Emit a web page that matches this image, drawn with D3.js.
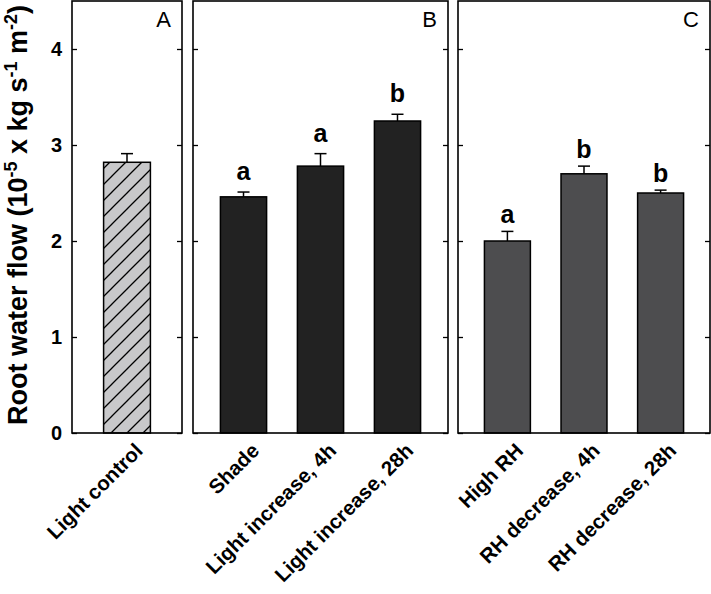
<!DOCTYPE html>
<html><head><meta charset="utf-8">
<script src="https://cdn.jsdelivr.net/npm/d3@7"></script>
<style>body{margin:0;background:#fff}svg{display:block}</style>
</head><body>
<svg id="chart" width="711" height="594"></svg>
<script>
// ---- data ----
const panelA_categories = ["Light control"];
const panelA_values = [2.82];
const panelA_errors = [0.09];
const panelA_letters = [""];

const panelB_categories = ["Shade", "Light increase, 4h", "Light increase, 28h"];
const panelB_values = [2.46, 2.78, 3.25];
const panelB_errors = [0.05, 0.13, 0.07];
const panelB_letters = ["a", "a", "b"];

const panelC_categories = ["High RH", "RH decrease, 4h", "RH decrease, 28h"];
const panelC_values = [2.00, 2.70, 2.50];
const panelC_errors = [0.10, 0.08, 0.03];
const panelC_letters = ["a", "b", "b"];

const panelLabels = ["A", "B", "C"];
const yTicks = [0, 1, 2, 3, 4];
const yDomain = [0, 4.5];

// ---- layout ----
const FONT = "'Liberation Sans', Arial, Helvetica, sans-serif";
const svg = d3.select("#chart");
const y = d3.scaleLinear().domain(yDomain).range([433, 1]);

const panels = [
  {label: panelLabels[0], cats: panelA_categories, vals: panelA_values, errs: panelA_errors, letters: panelA_letters,
   x0: 72, x1: 182, pi: 0.4, po: 0.405, fill: "url(#hatch)", letterGap: 10},
  {label: panelLabels[1], cats: panelB_categories, vals: panelB_values, errs: panelB_errors, letters: panelB_letters,
   x0: 193, x1: 448, pi: 0.4, po: 0.356, fill: "#222222", letterGap: 12},
  {label: panelLabels[2], cats: panelC_categories, vals: panelC_values, errs: panelC_errors, letters: panelC_letters,
   x0: 458, x1: 710, pi: 0.4, po: 0.345, fill: "#4d4d4f", letterGap: 8}
];

// hatch pattern
const defs = svg.append("defs");
const pat = defs.append("pattern").attr("id", "hatch").attr("patternUnits", "userSpaceOnUse")
  .attr("width", 16).attr("height", 16);
pat.append("rect").attr("width", 16).attr("height", 16).attr("fill", "#c8c8ca");
pat.append("path").attr("d", "M-4,4 L4,-4 M0,16 L16,0 M12,20 L20,12")
  .attr("stroke", "#000").attr("stroke-width", 1.3);

panels.forEach((p, pi) => {
  const g = svg.append("g");
  const x = d3.scaleBand().domain(p.cats).range([p.x0, p.x1])
    .paddingInner(p.pi).paddingOuter(p.po);
  const data = p.cats.map((c, i) => ({c, v: p.vals[i], e: p.errs[i], l: p.letters[i]}));

  // error bars (upper only)
  data.forEach(d => {
    const cx = x(d.c) + x.bandwidth() / 2;
    g.append("line").attr("x1", cx).attr("x2", cx).attr("y1", y(d.v)).attr("y2", y(d.v + d.e))
      .attr("stroke", "#000").attr("stroke-width", 1.5);
    g.append("line").attr("x1", cx - 6).attr("x2", cx + 6).attr("y1", y(d.v + d.e)).attr("y2", y(d.v + d.e))
      .attr("stroke", "#000").attr("stroke-width", 1.5);
    if (d.l) {
      g.append("text").attr("x", cx).attr("y", y(d.v + d.e) - p.letterGap)
        .attr("text-anchor", "middle").attr("font-family", FONT).attr("font-weight", "bold")
        .attr("font-size", 25).attr("fill", "#000").text(d.l);
    }
  });

  // bars
  g.selectAll("rect.bar").data(data).enter().append("rect").attr("class", "bar")
    .attr("x", d => x(d.c)).attr("width", x.bandwidth())
    .attr("y", d => y(d.v)).attr("height", d => y(0) - y(d.v))
    .attr("fill", p.fill).attr("stroke", "#000").attr("stroke-width", 1.5);

  // inward ticks left and right
  const axL = d3.axisRight(y).tickValues(yTicks).tickSize(5).tickFormat("");
  const axR = d3.axisLeft(y).tickValues(yTicks).tickSize(5).tickFormat("");
  const gl = g.append("g").attr("transform", `translate(${p.x0},0)`).call(axL);
  const gr = g.append("g").attr("transform", `translate(${p.x1},0)`).call(axR);
  [gl, gr].forEach(a => { a.select(".domain").remove(); a.selectAll("line").attr("stroke", "#000").attr("stroke-width", 1.3); });

  // frame
  g.append("rect").attr("x", p.x0).attr("y", y(yDomain[1])).attr("width", p.x1 - p.x0)
    .attr("height", y(0) - y(yDomain[1])).attr("fill", "none").attr("stroke", "#000").attr("stroke-width", 1.6);

  // panel label
  g.append("text").attr("x", p.x1 - 11).attr("y", 27).attr("text-anchor", "end")
    .attr("font-family", FONT).attr("font-size", 22).attr("fill", "#000").text(p.label);

  // x labels (rotated)
  data.forEach(d => {
    const cx = x(d.c) + x.bandwidth() / 2;
    g.append("text").attr("text-anchor", "end")
      .attr("transform", `translate(${cx + 17},${452}) rotate(-45)`)
      .attr("font-family", FONT).attr("font-weight", "bold").attr("font-size", 20.5).attr("fill", "#000")
      .text(d.c);
  });

  // y tick labels on first panel
  if (pi === 0) {
    const ay = d3.axisLeft(y).tickValues(yTicks).tickSize(0).tickPadding(10).tickFormat(d3.format("d"));
    const ga = g.append("g").attr("transform", `translate(${p.x0},0)`).call(ay);
    ga.select(".domain").remove();
    ga.selectAll("text").attr("font-family", FONT).attr("font-weight", "bold").attr("font-size", 20).attr("fill", "#000");
  }
});

// y axis title
const t = svg.append("text").attr("transform", "translate(27,215) rotate(-90)")
  .attr("text-anchor", "middle").attr("font-family", FONT).attr("font-weight", "bold")
  .attr("font-size", 27).attr("fill", "#000");
t.append("tspan").text("Root water flow (10");
t.append("tspan").attr("font-size", 18).attr("dy", -10).text("-5");
t.append("tspan").attr("dy", 10).text(" x kg s");
t.append("tspan").attr("font-size", 18).attr("dy", -10).text("-1");
t.append("tspan").attr("dy", 10).text(" m");
t.append("tspan").attr("font-size", 18).attr("dy", -10).text("-2");
t.append("tspan").attr("dy", 10).text(")");
</script>
</body></html>
